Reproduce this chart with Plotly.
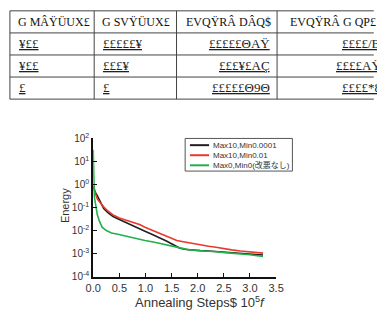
import plotly.graph_objects as go

W, H = 377, 321

# ---------------- data ----------------
table_header = ["G MÂŸÜUX£", "G SVŸÜUX£", "EVQŸRÂ DÂQ$", "EVQŸRÂ G QP£"]
table_rows = [
    ["¥££", "£££££¥", "£££££ΘAŸ", "££££/B"],
    ["¥££", "£££¥", "£££¥£AÇ", "££££AŸ"],
    ["£", "£", "£££££Θ9Θ", "££££*8"],
]

series_names = ["Max10,Min0.0001", "Max10,Min0.01", "Max0,Min0(改悪なし)"]
series_colors = ["#231f20", "#e8392b", "#22b04b"]

steps_black = [0.01, 0.03, 0.08, 0.14, 0.2, 0.28, 0.38, 0.5, 0.6, 0.69, 0.8, 0.9, 0.99,
               1.1, 1.2, 1.3, 1.4, 1.48, 1.57, 1.66, 1.78, 1.91, 2.05, 2.21, 2.35, 2.52,
               2.65, 2.82, 3.0, 3.1, 3.25]
energy_black = [0.79, 0.50, 0.32, 0.16, 0.091, 0.060, 0.041, 0.030, 0.024, 0.019, 0.015,
                0.012, 0.0093, 0.0072, 0.0058, 0.0045, 0.0035, 0.0028, 0.0021, 0.0017,
                0.0015, 0.0014, 0.00135, 0.0013, 0.00123, 0.00117, 0.0011, 0.00102,
                0.00095, 0.00091, 0.00087]

steps_red = [0.01, 0.03, 0.08, 0.14, 0.2, 0.28, 0.38, 0.5, 0.6, 0.69, 0.8, 0.9, 0.99,
             1.1, 1.2, 1.3, 1.4, 1.5, 1.6, 1.75, 1.91, 2.05, 2.21, 2.35, 2.52, 2.65,
             2.82, 3.0, 3.1, 3.25]
energy_red = [0.89, 0.50, 0.23, 0.15, 0.107, 0.071, 0.048, 0.035, 0.030, 0.025, 0.021,
              0.018, 0.014, 0.011, 0.0093, 0.0076, 0.0060, 0.0047, 0.0037, 0.0032,
              0.0027, 0.0024, 0.0021, 0.0019, 0.0016, 0.00145, 0.0013, 0.0012,
              0.00112, 0.00105]

steps_green = [0.0, 0.005, 0.01, 0.02, 0.03, 0.05, 0.08, 0.12, 0.17, 0.25, 0.35, 0.45,
               0.55, 0.69, 0.85, 0.99, 1.15, 1.3, 1.45, 1.6, 1.75, 1.91, 2.05, 2.21,
               2.35, 2.52, 2.65, 2.82, 3.0, 3.1, 3.25]
energy_green = [32, 3.2, 0.5, 0.32, 0.22, 0.10, 0.047, 0.025, 0.014, 0.010, 0.0079,
                0.0071, 0.0063, 0.0051, 0.0044, 0.0037, 0.0032, 0.0027, 0.0022, 0.0018,
                0.0016, 0.0014, 0.00135, 0.0013, 0.0012, 0.0011, 0.00105, 0.00098,
                0.00089, 0.00083, 0.00076]

y_tick_vals = [1e-4, 1e-3, 1e-2, 1e-1, 1, 10, 100]
y_tick_text = ["10<sup>-4</sup>", "10<sup>-3</sup>", "10<sup>-2</sup>", "10<sup>-1</sup>",
               "10<sup>0</sup>", "10<sup>1</sup>", "10<sup>2</sup>"]
x_tick_vals = [0, 0.5, 1, 1.5, 2, 2.5, 3, 3.5]
x_tick_text = ["0.0", "0.5", "1.0", "1.5", "2.0", "2.5", "3.0", "3.5"]

x_title = "Annealing Steps$ 10<sup>5</sup><i>f</i>"
y_title = "Energy"

# ---------------- helpers (pixel -> paper) ----------------
def PX(px):
    return px / W

def PY(py):
    return 1 - py / H

fig = go.Figure()
for xs, ys, name, col in zip([steps_black, steps_red, steps_green],
                             [energy_black, energy_red, energy_green],
                             series_names, series_colors):
    fig.add_trace(go.Scatter(x=xs, y=ys, mode="lines", name=name,
                             line=dict(color=col, width=1.6), showlegend=False))

shapes = []
annotations = []

# ---------------- table ----------------
col_edges = [2, 90, 176, 281, 400]
row_edges = [4, 27, 50, 73, 96]
line_col = "#444444"
for xe in col_edges[:-1]:
    shapes.append(dict(type="line", xref="paper", yref="paper",
                       x0=PX(xe), x1=PX(xe), y0=PY(row_edges[0]), y1=PY(row_edges[-1]),
                       line=dict(color=line_col, width=1)))
for ye in row_edges:
    shapes.append(dict(type="line", xref="paper", yref="paper",
                       x0=PX(col_edges[0]), x1=PX(W + 5), y0=PY(ye), y1=PY(ye),
                       line=dict(color=line_col, width=1)))

serif = "Liberation Serif"
header_x = [8, 96, 184, 292]
for i, txt in enumerate(table_header):
    annotations.append(dict(text=txt, xref="paper", yref="paper",
                            x=PX(header_x[i]), y=PY(16), xanchor="left", yanchor="middle",
                            showarrow=False, font=dict(family=serif, size=12, color="#111")))
row_y = [38, 61, 84]
for r, row in enumerate(table_rows):
    for c, txt in enumerate(row):
        if c < 2:
            x = PX(col_edges[c] + 7)
            xa = "left"
        else:
            x = PX(276 if c == 2 else 392)
            xa = "right"
        annotations.append(dict(text="<u>" + txt + "</u>", xref="paper", yref="paper",
                                x=x, y=PY(row_y[r]), xanchor=xa, yanchor="middle",
                                showarrow=False,
                                font=dict(family=serif, size=13, color="#222")))

# ---------------- legend (manual) ----------------
shapes.append(dict(type="rect", xref="paper", yref="paper",
                   x0=PX(185), x1=PX(297), y0=PY(137), y1=PY(171),
                   line=dict(color="#555", width=1), fillcolor="white"))
leg_y = [144, 154.5, 165]
for name, col, ly in zip(series_names, series_colors, leg_y):
    shapes.append(dict(type="line", xref="paper", yref="paper",
                       x0=PX(190), x1=PX(210), y0=PY(ly), y1=PY(ly),
                       line=dict(color=col, width=2)))
    annotations.append(dict(text=name, xref="paper", yref="paper",
                            x=PX(212), y=PY(ly), xanchor="left", yanchor="middle",
                            showarrow=False,
                            font=dict(family="Arial, Noto Sans CJK JP", size=8, color="#333")))

# ---------------- axis titles ----------------
annotations.append(dict(text=x_title, xref="paper", yref="paper", x=PX(201), y=PY(307),
                        xanchor="center", yanchor="middle", showarrow=False,
                        font=dict(family="Arial", size=13, color="#333")))
annotations.append(dict(text=y_title, xref="paper", yref="paper", x=PX(59), y=PY(207),
                        xanchor="center", yanchor="middle", showarrow=False, textangle=-90,
                        font=dict(family="Arial", size=11, color="#333")))

fig.update_layout(
    width=W, height=H,
    margin=dict(l=0, r=0, t=0, b=0),
    paper_bgcolor="white", plot_bgcolor="white",
    showlegend=False,
    shapes=shapes, annotations=annotations,
    xaxis=dict(domain=[PX(89), PX(280)], range=[0, 3.5], tickvals=x_tick_vals,
               ticktext=x_tick_text,
               showgrid=False, zeroline=False, showline=True, linecolor="#111", linewidth=2,
               ticks="inside", ticklen=4, tickcolor="#111", tickwidth=1,
               tickfont=dict(family="Arial", size=11, color="#333")),
    yaxis=dict(domain=[PY(281), PY(137)], type="log", range=[-4, 2],
               tickvals=y_tick_vals, ticktext=y_tick_text,
               showgrid=False, zeroline=False, showline=True, linecolor="#111", linewidth=2,
               ticks="inside", ticklen=4, tickcolor="#111", tickwidth=1,
               tickfont=dict(family="Arial", size=10, color="#333")),
)

fig.write_html("out.html")
